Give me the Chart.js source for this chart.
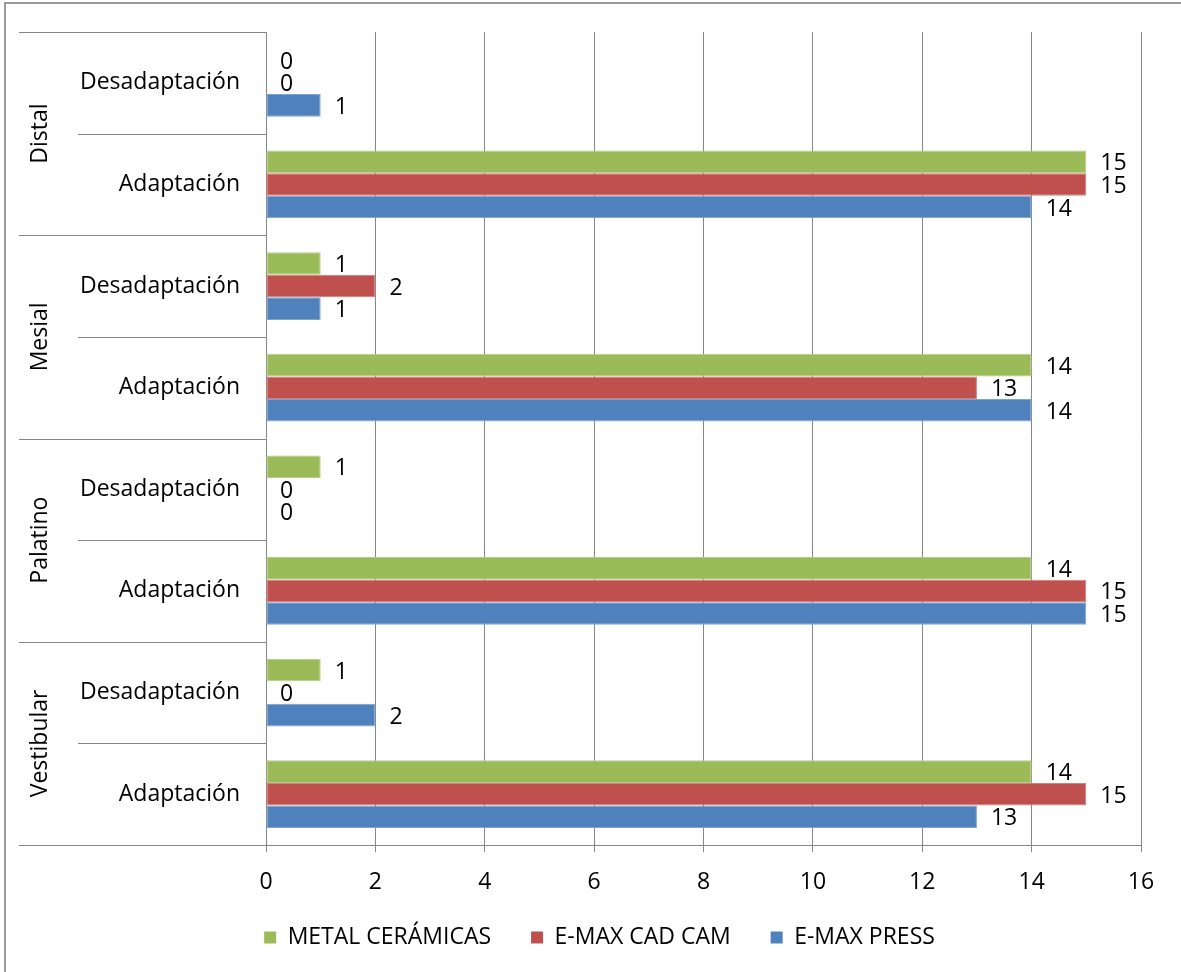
<!DOCTYPE html>
<html>
<head>
<meta charset="utf-8">
<script src="https://cdn.jsdelivr.net/npm/chart.js@4.4.1/dist/chart.umd.min.js"></script>
<style>
  html, body { margin: 0; padding: 0; background: #fff; }
  #wrap { position: relative; width: 1181px; height: 972px; }
</style>
</head>
<body>
<div id="wrap"><canvas id="chart"></canvas></div>
<script>
// Surface groups (outer level of the category axis), top to bottom
const groups = ['Distal', 'Mesial', 'Palatino', 'Vestibular'];
// Inner categories, top to bottom
const categories = [
  'Desadaptación', 'Adaptación',
  'Desadaptación', 'Adaptación',
  'Desadaptación', 'Adaptación',
  'Desadaptación', 'Adaptación'
];
// Counts per restoration type
const metalCeramicas = [0, 15, 1, 14, 1, 14, 1, 14];
const emaxCadCam     = [0, 15, 2, 13, 0, 15, 0, 15];
const emaxPress      = [1, 14, 1, 14, 0, 15, 2, 13];
const seriesNames = ['METAL CERÁMICAS', 'E-MAX CAD CAM', 'E-MAX PRESS'];
const xTickValues = [0, 2, 4, 6, 8, 10, 12, 14, 16];

const FONT = '"Open Sans", "Noto Sans", sans-serif';
const FONT_SIZE = 23;
const LINE = '#868686';

// Frame, multi-level category separators, group captions and value labels
const frame = {
  id: 'frame',
  afterLayout(chart) {
    // move the legend row a little right and up
    const lg = chart.legend;
    if (lg) {
      lg.left += 29; lg.right += 29;
      lg.top -= 11; lg.bottom -= 11;
    }
  },
  beforeDraw(chart) {
    const ctx = chart.ctx;
    ctx.save();
    ctx.strokeStyle = '#9a9a9a';
    ctx.lineWidth = 2;
    ctx.beginPath();
    ctx.moveTo(5, chart.height + 5);
    ctx.lineTo(5, 3);
    ctx.lineTo(chart.width + 5, 3);
    ctx.stroke();
    ctx.restore();
  },
  afterDatasetsDraw(chart) {
    const ctx = chart.ctx;
    const y = chart.scales.y;
    const area = chart.chartArea;
    const n = categories.length;
    const boundary = (i) => {
      if (i === 0) return area.top;
      if (i === n) return area.bottom;
      return (y.getPixelForValue(i - 1) + y.getPixelForValue(i)) / 2;
    };
    ctx.save();
    ctx.strokeStyle = LINE;
    ctx.lineWidth = 1;
    for (let i = 0; i <= n; i++) {
      const py = Math.round(boundary(i)) + 0.5;
      const x0 = (i % 2 === 0) ? 19 : 78;
      ctx.beginPath();
      ctx.moveTo(x0, py);
      ctx.lineTo(area.left, py);
      ctx.stroke();
    }
    // Group captions, rotated
    ctx.fillStyle = '#000';
    ctx.font = FONT_SIZE + 'px ' + FONT;
    ctx.textAlign = 'center';
    ctx.textBaseline = 'alphabetic';
    groups.forEach((g, gi) => {
      const cy = (boundary(gi * 2) + boundary(gi * 2 + 2)) / 2;
      ctx.save();
      ctx.translate(47, cy);
      ctx.rotate(-Math.PI / 2);
      ctx.fillText(g, 0, 0);
      ctx.restore();
    });
    // Value labels at the end of each bar
    ctx.textAlign = 'left';
    ctx.textBaseline = 'middle';
    chart.data.datasets.forEach((ds, di) => {
      const meta = chart.getDatasetMeta(di);
      meta.data.forEach((bar, i) => {
        ctx.fillText(String(ds.data[i]), bar.x + 14, bar.y + 2);
      });
    });
    ctx.restore();
  }
};

new Chart(document.getElementById('chart'), {
  type: 'bar',
  data: {
    labels: categories,
    datasets: [
      { label: seriesNames[0], data: metalCeramicas, backgroundColor: '#9BBB59', borderColor: '#B4CD84', borderWidth: 1, borderSkipped: false },
      { label: seriesNames[1], data: emaxCadCam,     backgroundColor: '#C0504D', borderColor: '#D27E7C', borderWidth: 1, borderSkipped: false },
      { label: seriesNames[2], data: emaxPress,      backgroundColor: '#4F81BD', borderColor: '#7FA3D0', borderWidth: 1, borderSkipped: false }
    ]
  },
  options: {
    indexAxis: 'y',
    responsive: true,
    maintainAspectRatio: false,
    animation: false,
    datasets: { bar: { categoryPercentage: 2 / 3, barPercentage: 1 } },
    layout: { padding: { top: 32, right: 40, left: 0, bottom: 2 } },
    scales: {
      x: {
        min: 0,
        max: 16,
        afterBuildTicks(scale) { scale.ticks = xTickValues.map(v => ({ value: v })); },
        afterFit(scale) { scale.height = 52; },
        ticks: { color: '#000', font: { family: FONT, size: FONT_SIZE }, padding: 17, maxRotation: 0 },
        grid: { color: LINE, lineWidth: 1, tickLength: 7, drawTicks: true },
        border: { display: true, color: LINE, width: 1 }
      },
      y: {
        afterFit(scale) {
          scale.width = 266;
          scale.paddingTop = 0;
          scale.paddingBottom = 0;
        },
        ticks: { color: '#000', font: { family: FONT, size: FONT_SIZE }, padding: 26, autoSkip: false },
        grid: { display: false, drawTicks: false },
        border: { display: false }
      }
    },
    plugins: {
      tooltip: { enabled: false },
      legend: {
        position: 'bottom',
        labels: {
          color: '#000',
          font: { family: FONT, size: FONT_SIZE },
          boxWidth: 12,
          boxHeight: 12,
          padding: 40,
          generateLabels(chart) {
            const items = Chart.defaults.plugins.legend.labels.generateLabels(chart);
            items.forEach(it => { it.lineWidth = 0; it.strokeStyle = 'transparent'; });
            return items;
          }
        }
      }
    }
  },
  plugins: [frame]
});
</script>
</body>
</html>
